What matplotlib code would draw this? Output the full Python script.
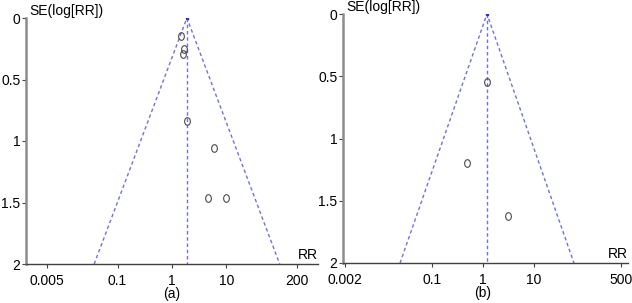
import numpy as np
import matplotlib
matplotlib.use("Agg")
import matplotlib.pyplot as plt
from matplotlib.path import Path
from matplotlib.transforms import Affine2D

plt.rcParams['font.family'] = ['Liberation Sans', 'DejaVu Sans']

# study estimates
rr_a = [1.46, 1.66, 1.60, 1.88, 5.9, 4.6, 9.8]
se_a = [0.146, 0.25, 0.29, 0.84, 1.057, 1.46, 1.46]
pooled_a = 1.88
xticks_a = [0.005, 0.1, 1, 10, 200]
xlim_a = (10 ** -2.68, 10 ** 2.68)

rr_b = [1.2, 0.49, 3.1]
se_b = [0.55, 1.2, 1.62]
pooled_b = 1.2
xticks_b = [0.002, 0.1, 1, 10, 500]
xlim_b = (10 ** -2.74, 10 ** 2.84)

yticks = [0, 0.5, 1, 1.5, 2]
panel_labels = ['(a)', '(b)']

# slightly tall hollow ellipse marker, like a letter "o"
oval = Path.unit_circle().transformed(Affine2D().scale(0.75, 1.0))

fig = plt.figure(figsize=(6.32, 3.03), dpi=100)
boxes = [[26 / 632, 1 - 264 / 303, 292 / 632, 246 / 303],
         [343 / 632, 1 - 263 / 303, 285 / 632, 249 / 303]]

panels = [(rr_a, se_a, pooled_a, xticks_a, xlim_a),
          (rr_b, se_b, pooled_b, xticks_b, xlim_b)]

for box, (rr, se, pooled, xt, xl), lab in zip(boxes, panels, panel_labels):
    ax = fig.add_axes(box)
    ax.set_xscale('log')
    ax.set_xlim(*xl)
    ax.set_ylim(2, 0)

    # funnel: pooled estimate +/- 1.96 SE on the log scale
    se_max = 2.0
    lo = pooled * np.exp(-1.96 * se_max)
    hi = pooled * np.exp(1.96 * se_max)
    dash = dict(color='#6f6fe6', lw=1.0, ls=(0, (2.5, 2)))
    ax.plot([lo, pooled, hi], [se_max, 0, se_max], **dash)
    ax.plot([pooled, pooled], [0, se_max], **dash)
    ax.plot([pooled], [0], marker='s', ms=1.5, color='#3030d0')

    ax.plot(rr, se, ls='none', marker=oval, ms=5.5, mfc='none',
            mec='#4a4a4a', mew=0.8)

    for s in ['top', 'right']:
        ax.spines[s].set_visible(False)
    ax.spines['left'].set_color('#8c8c8c')
    ax.spines['left'].set_linewidth(1.8)
    ax.spines['bottom'].set_color('#404040')
    ax.spines['bottom'].set_linewidth(1.0)

    ax.set_xticks(xt)
    ax.set_xticklabels([('%g' % t) for t in xt])
    ax.xaxis.set_minor_locator(matplotlib.ticker.NullLocator())
    ax.set_yticks(yticks)
    ax.set_yticklabels(['0', '0.5', '1', '1.5', '2'])
    ax.tick_params(axis='both', labelsize=10, length=3, width=0.8,
                   color='#404040', pad=1)
    ax.tick_params(axis='x', pad=4)

    ax.text(0.01, 1.0, 'SE(log[RR])', transform=ax.transAxes,
            fontsize=10, ha='left', va='bottom')
    ax.text(1.0, 0.01, 'RR', transform=ax.transAxes,
            fontsize=10, ha='right', va='bottom')
    ax.text(1.0, -0.12, lab, transform=ax.get_xaxis_transform(),
            fontsize=10, ha='center', va='center')

fig.savefig('out.png', dpi=100)
